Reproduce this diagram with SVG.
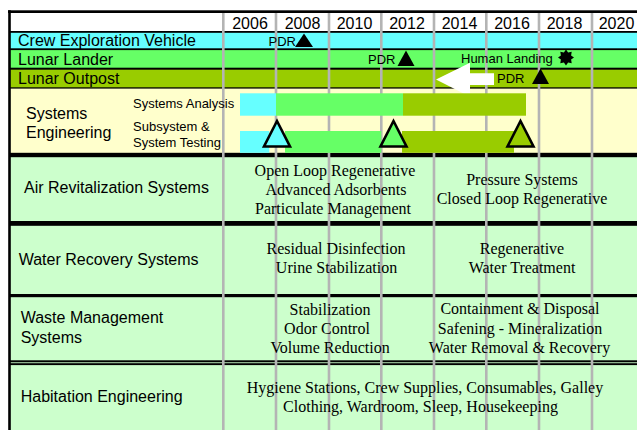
<svg xmlns="http://www.w3.org/2000/svg" width="637" height="430" viewBox="0 0 637 430">
<style>
.sans{font-family:"Liberation Sans",Arial,sans-serif;fill:#000}
.l16{font-size:16px}
.s13{font-size:13px}
.serif{font-family:"Liberation Serif","Times New Roman",serif;font-size:16px;fill:#000;text-anchor:middle}
.yr{font-family:"Liberation Sans",Arial,sans-serif;font-size:16px;text-anchor:middle;fill:#000}
.blk{fill:#000}
.grid{stroke:#b4b4b4;stroke-width:2.6}
.tri{stroke:#000;stroke-width:2.6;stroke-linejoin:miter}
</style>
<rect width="637" height="430" fill="#ffffff"/>
<!-- row backgrounds -->
<g id="header"><rect x="10" y="13" width="627" height="18.5" fill="#ffffff"/></g>
<g id="row-cev"><rect x="10" y="32" width="627" height="17" fill="#66ffff"/></g>
<g id="row-lander"><rect x="10" y="49" width="627" height="19.5" fill="#66ff66"/></g>
<g id="row-outpost"><rect x="10" y="68.5" width="627" height="19.5" fill="#99cc00"/></g>
<g id="row-syseng"><rect x="10" y="88" width="627" height="66" fill="#ffffcc"/></g>
<g id="row-air"><rect x="10" y="155" width="627" height="68" fill="#ccffcc"/></g>
<g id="row-water"><rect x="10" y="223" width="627" height="73" fill="#ccffcc"/></g>
<g id="row-waste"><rect x="10" y="296" width="627" height="67" fill="#ccffcc"/></g>
<g id="row-hab"><rect x="10" y="363" width="627" height="67" fill="#ccffcc"/></g>
<!-- black separators -->
<g id="separators" class="blk">
<rect x="8" y="10.3" width="629" height="2.7"/>
<rect x="8" y="8" width="0" height="0"/>
<rect x="10" y="31" width="627" height="1.8"/>
<rect x="10" y="48.3" width="627" height="1.8"/>
<rect x="10" y="67.7" width="627" height="2"/>
<rect x="10" y="87.3" width="627" height="1.3"/>
<rect x="10" y="152.8" width="627" height="4.4"/>
<rect x="10" y="221" width="627" height="4.8"/>
<rect x="10" y="294" width="627" height="3.2"/>
<rect x="10" y="360.3" width="627" height="2"/>
<rect x="10" y="363.2" width="627" height="1.9"/>
<rect x="8.2" y="10.3" width="2.6" height="419.7"/>
</g>
<!-- year grid -->
<g id="grid" class="grid">
<line x1="223.3" y1="13" x2="223.3" y2="430"/>
<line x1="276" y1="13" x2="276" y2="430"/>
<line x1="329" y1="13" x2="329" y2="430"/>
<line x1="381.3" y1="13" x2="381.3" y2="430"/>
<line x1="434" y1="13" x2="434" y2="430"/>
<line x1="486.3" y1="13" x2="486.3" y2="430"/>
<line x1="539" y1="13" x2="539" y2="430"/>
<line x1="592" y1="13" x2="592" y2="430"/>
</g>
<g id="years">
<text class="yr" x="250" y="29">2006</text>
<text class="yr" x="302.5" y="29">2008</text>
<text class="yr" x="354.5" y="29">2010</text>
<text class="yr" x="407" y="29">2012</text>
<text class="yr" x="459.5" y="29">2014</text>
<text class="yr" x="512" y="29">2016</text>
<text class="yr" x="564.5" y="29">2018</text>
<text class="yr" x="616.5" y="29">2020</text>
</g>
<!-- program rows labels & milestones -->
<g id="cev">
<text class="sans l16" x="18" y="45.5">Crew Exploration Vehicle</text>
<text class="sans s13" x="268.5" y="46.3">PDR</text>
<polygon class="blk" points="304,33.5 295,47 313,47"/>
</g>
<g id="lander">
<text class="sans l16" x="18" y="65">Lunar Lander</text>
<text class="sans s13" x="368" y="63.5">PDR</text>
<polygon class="blk" points="406,50.5 397.5,66 414.5,66"/>
<text class="sans s13" x="461" y="63.3">Human Landing</text>
<polygon class="blk" points="574,57.5 571.1,59.6 571.7,63.2 568.1,62.6 566,65.5 563.9,62.6 560.3,63.2 560.9,59.6 558,57.5 560.9,55.4 560.3,51.8 563.9,52.4 566,49.5 568.1,52.4 571.7,51.8 571.1,55.4"/>
</g>
<g id="outpost">
<text class="sans l16" x="18" y="84">Lunar Outpost</text>
<text class="sans s13" x="497" y="83.3">PDR</text>
<polygon class="blk" points="540.5,68.5 532,84 549,84"/>
</g>
<g id="connectors">
<polygon fill="#ffffff" points="436,79.5 470,62.7 470,73.3 494,73.3 494,85 470,85 470,96.7"/>
</g>
<g id="systems-engineering">
<text class="sans l16" x="26" y="119.3">Systems</text>
<text class="sans l16" x="26" y="138.3">Engineering</text>
<text class="sans s13" x="133" y="107.7">Systems Analysis</text>
<text class="sans s13" x="133" y="130.7">Subsystem &amp;</text>
<text class="sans s13" x="133" y="146.7">System Testing</text>
<rect x="240" y="93.3" width="36" height="22.4" fill="#66ffff"/>
<rect x="276" y="93.3" width="127" height="22.4" fill="#66ff66"/>
<rect x="403" y="93.3" width="123" height="22.4" fill="#99cc00"/>
<rect x="240" y="131" width="29.3" height="21.8" fill="#66ffff"/>
<rect x="285" y="131" width="96.3" height="21.8" fill="#66ff66"/>
<rect x="402" y="131" width="112" height="21.8" fill="#99cc00"/>
<polygon class="tri" fill="#66ffff" points="277,121 264,146.5 290,146.5"/>
<polygon class="tri" fill="#66ff66" points="393.5,121 380.5,146.5 406.5,146.5"/>
<polygon class="tri" fill="#99cc00" points="520.5,121 507.5,146.5 533.5,146.5"/>
</g>
<g id="air">
<text class="sans l16" x="24" y="193.3">Air Revitalization Systems</text>
<text class="serif" x="335" y="176">Open Loop Regenerative</text>
<text class="serif" x="336" y="195">Advanced Adsorbents</text>
<text class="serif" x="333" y="214">Particulate Management</text>
<text class="serif" x="522" y="185">Pressure Systems</text>
<text class="serif" x="522" y="204">Closed Loop Regenerative</text>
</g>
<g id="water">
<text class="sans l16" x="18.7" y="265">Water Recovery Systems</text>
<text class="serif" x="336" y="254">Residual Disinfection</text>
<text class="serif" x="336.5" y="272.7">Urine Stabilization</text>
<text class="serif" x="522" y="254">Regenerative</text>
<text class="serif" x="522" y="272.7">Water Treatment</text>
</g>
<g id="waste">
<text class="sans l16" x="20.7" y="323.3">Waste Management</text>
<text class="sans l16" x="20.7" y="343.3">Systems</text>
<text class="serif" x="330" y="315">Stabilization</text>
<text class="serif" x="327" y="334.3">Odor Control</text>
<text class="serif" x="330" y="353.3">Volume Reduction</text>
<text class="serif" x="520" y="314.3">Containment &amp; Disposal</text>
<text class="serif" x="520" y="333.5">Safening - Mineralization</text>
<text class="serif" x="519.5" y="352.7">Water Removal &amp; Recovery</text>
</g>
<g id="habitation">
<text class="sans l16" x="20.7" y="402.3">Habitation Engineering</text>
<text class="serif" x="425" y="393.3">Hygiene Stations, Crew Supplies, Consumables, Galley</text>
<text class="serif" x="420.5" y="412.3">Clothing, Wardroom, Sleep, Housekeeping</text>
</g>
</svg>
